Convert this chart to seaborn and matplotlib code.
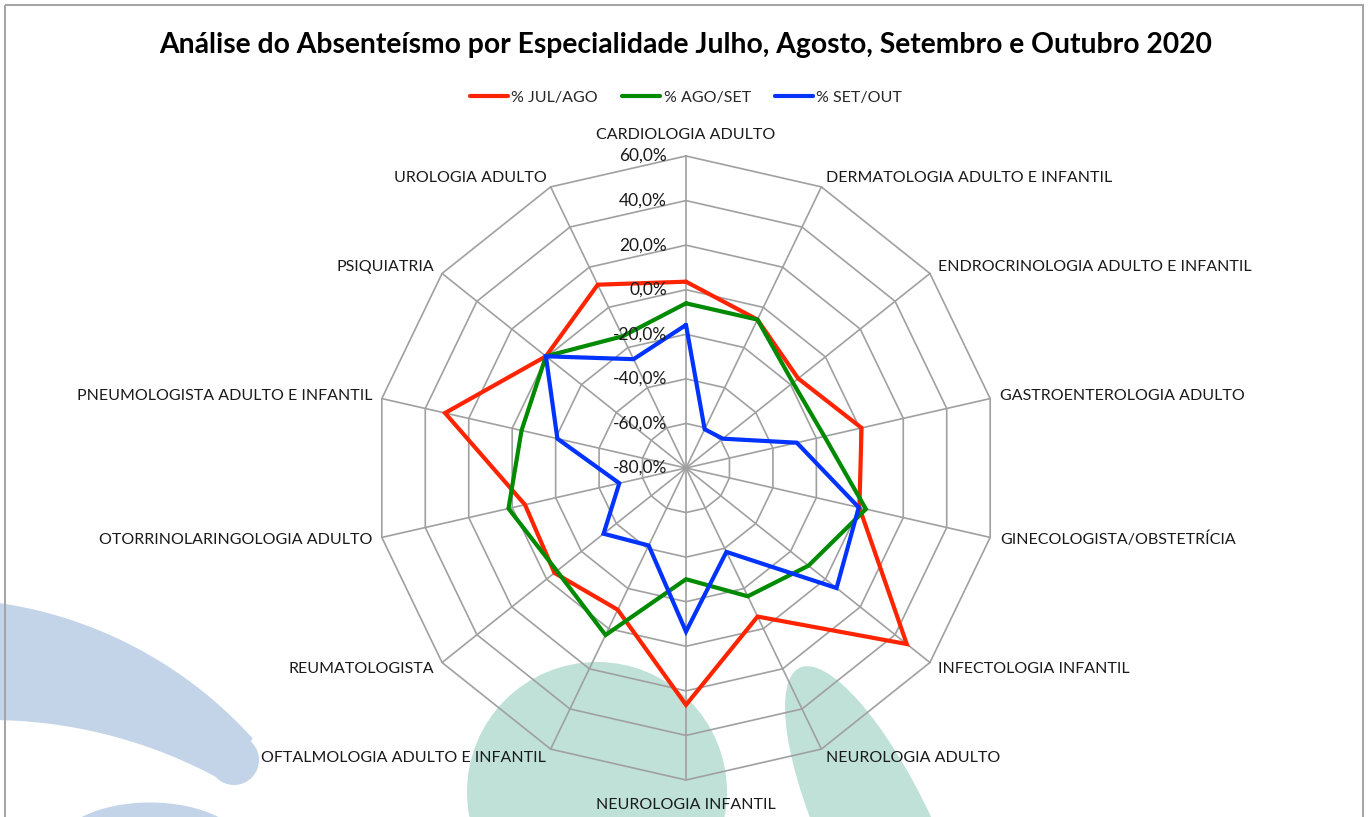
import numpy as np
import pandas as pd
import seaborn as sns
import matplotlib.pyplot as plt
from matplotlib.patches import Polygon, Circle, Ellipse, Rectangle
from matplotlib.lines import Line2D

# categories clockwise from the top
categories = [
    'CARDIOLOGIA ADULTO', 'DERMATOLOGIA ADULTO E INFANTIL',
    'ENDROCRINOLOGIA ADULTO E INFANTIL', 'GASTROENTEROLOGIA ADULTO',
    'GINECOLOGISTA/OBSTETRÍCIA', 'INFECTOLOGIA INFANTIL', 'NEUROLOGIA ADULTO',
    'NEUROLOGIA INFANTIL', 'OFTALMOLOGIA ADULTO E INFANTIL', 'REUMATOLOGISTA',
    'OTORRINOLARINGOLOGIA ADULTO', 'PNEUMOLOGISTA ADULTO E INFANTIL',
    'PSIQUIATRIA', 'UROLOGIA ADULTO',
]
series_names = ['% JUL/AGO', '% AGO/SET', '% SET/OUT']
jul_ago = [3.6, -6.1, -15.6, 0.8, -0.2, 46.7, -6.0, 26.3, -9.4, -4.5, -5.9, 30.9, 0.4, 11.3]
ago_set = [-6.1, -6.1, -18.6, -16.3, 2.8, -9.7, -16.1, -30.1, 3.2, -5.9, 1.7, -4.3, 0.4, -14.4]
set_out = [-15.8, -60.7, -58.9, -29.0, -0.5, 6.4, -38.2, -6.6, -41.4, -32.7, -49.3, -20.8, 0.4, -25.8]
ticks = [-80, -60, -40, -20, 0, 20, 40, 60]
colors = ['#FF2400', '#008A00', '#0033FF']

W, H = 1369, 817
sns.set_theme(style='white')
plt.rcParams['font.family'] = ['Lato', 'DejaVu Sans']

fig = plt.figure(figsize=(W / 100, H / 100), dpi=100)

# watermark shapes + chart border, in pixel coordinates
bg = fig.add_axes([0, 0, 1, 1], zorder=-5)
bg.set_xlim(0, W)
bg.set_ylim(H, 0)
bg.axis('off')
blue_wm = '#C3D4E8'
green_wm = '#BFE1D8'
t1 = np.radians(np.linspace(95, 40, 80))
upper = np.c_[-62 + 424 * np.cos(t1), 1022.6 - 424 * np.sin(t1)]
upper = upper[upper[:, 0] <= 253]
t2 = np.radians(np.linspace(95, 55, 80))
lower = np.c_[-11 + 481 * np.cos(t2), 1201 - 481 * np.sin(t2)]
lower = lower[lower[:, 0] <= 228]
bg.add_patch(Polygon(np.vstack([upper, lower[::-1]]), closed=True, color=blue_wm, lw=0))
bg.add_patch(Circle((234, 760), 25, color=blue_wm, lw=0))
bg.add_patch(Ellipse((150, 850), 190, 95, color=blue_wm, lw=0))
bg.add_patch(Circle((597, 792), 130, color=green_wm, lw=0))
bg.add_patch(Ellipse((880, 840), 380, 112, angle=65, color=green_wm, lw=0))
bg.add_patch(Rectangle((5, 5), 1358, 900, fill=False, ec='#A6A6A6', lw=1.5))

# radar axes
cx, cy, R = 686, 468, 312
ax = fig.add_axes([(cx - R) / W, (H - cy - R) / H, 2 * R / W, 2 * R / H], projection='polar')
ax.set_theta_zero_location('N')
ax.set_theta_direction(-1)
ax.set_ylim(-80, 60)
ax.patch.set_alpha(0)
ax.grid(False)
ax.spines['polar'].set_visible(False)
ax.set_xticks([])
ax.set_yticks([])

n = len(categories)
angles = np.linspace(0, 2 * np.pi, n, endpoint=False)
closed = np.append(angles, 2 * np.pi)

grid_col = '#A0A0A0'
for lvl in ticks[1:]:
    ax.plot(closed, [lvl] * (n + 1), color=grid_col, lw=1.2, zorder=1, clip_on=False)
for a in angles:
    ax.plot([a, a], [-80, 60], color=grid_col, lw=1.2, zorder=1, clip_on=False)

rows = []
for name, vals in zip(series_names, [jul_ago, ago_set, set_out]):
    vv = list(vals) + [vals[0]]
    for a, v in zip(closed, vv):
        rows.append({'theta': a, 'value': v, 'serie': name})
df = pd.DataFrame(rows)
sns.lineplot(data=df, x='theta', y='value', hue='serie', palette=colors, sort=False,
             estimator=None, lw=3, ax=ax, legend=False, zorder=3)
for l in ax.lines:
    l.set_clip_on(False)
    l.set_solid_joinstyle('miter')
ax.set_xlabel('')
ax.set_ylabel('')

# radial tick labels
for t in ticks:
    ax.annotate(f'{t:.1f}%'.replace('.', ','), xy=(0, t), xytext=(-19, 0),
                textcoords='offset pixels', ha='right', va='center', fontsize=12.5, color='#1a1a1a')

# category labels
for a, lab in zip(angles, categories):
    s, c = np.sin(a), np.cos(a)
    dx, dy = 10 * s, 10 * c
    if abs(s) < 0.01:
        ha = 'center'
        dy += 11 if c > 0 else -15
    else:
        ha = 'left' if s > 0 else 'right'
    ax.annotate(lab, xy=(a, 60), xytext=(dx, dy), textcoords='offset pixels',
                ha=ha, va='center', fontsize=11.5, color='#1a1a1a', annotation_clip=False)

fig.text(cx / W, 1 - 45 / H, 'Análise do Absenteísmo por Especialidade Julho, Agosto, Setembro e Outubro 2020',
         ha='center', va='center', fontsize=20.3, fontweight='bold', color='#000000')

handles = [Line2D([0], [0], color=c, lw=3, solid_capstyle='round') for c in colors]
fig.legend(handles, series_names, loc='center', bbox_to_anchor=(cx / W, 1 - 98 / H), ncol=3,
           frameon=False, fontsize=11.5, handlelength=2.4, handletextpad=0.2, columnspacing=1.5)

fig.savefig('out.png', dpi=100, facecolor='white')
